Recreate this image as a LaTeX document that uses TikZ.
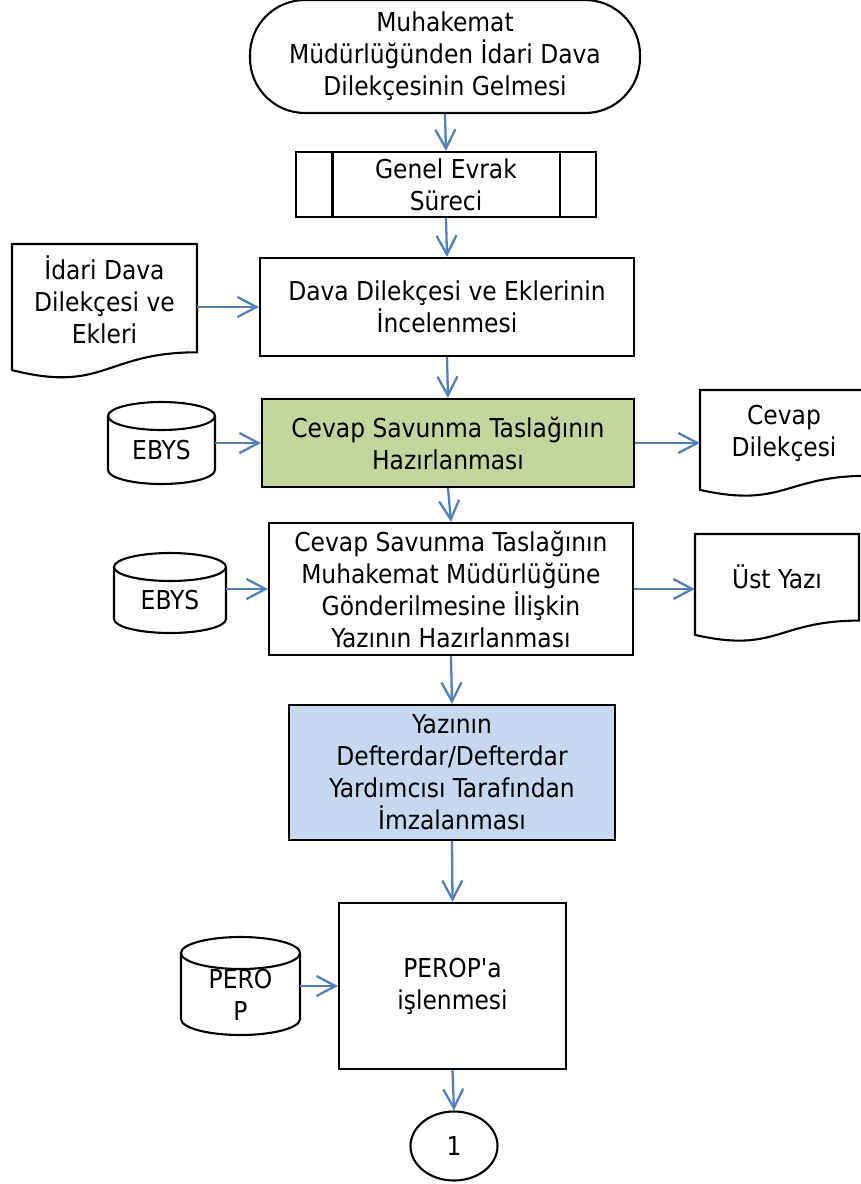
\documentclass[tikz,border=0pt]{standalone}
\usepackage{fontspec}
\setmainfont{DejaVu Sans Condensed}[Ligatures=TeXOff]
\usetikzlibrary{arrows.meta,calc,shapes.geometric}
\definecolor{arrblue}{RGB}{79,129,189}
\definecolor{gfill}{RGB}{195,214,155}
\definecolor{bfill}{RGB}{198,217,241}
\newcommand\cylshape[5]{%
  \draw[shp] (#1-#2,#3+#5) -- (#1-#2,#4-#5) arc[start angle=180,end angle=0,x radius=#2,y radius=#5] -- (#1+#2,#3+#5);
  \draw[shp] (#1,#3+#5) ellipse[x radius=#2,y radius=#5];}
\begin{document}
\begin{tikzpicture}[x=1pt,y=-1pt,
  font=\fontsize{26}{32}\selectfont,
  shp/.style={draw=black,line width=2.1pt},
  box/.style={shp,align=center,inner sep=0pt},
  lbl/.style={align=center,inner sep=0pt},
  arr/.style={draw=arrblue,line width=2.3pt,-{Straight Barb[length=19pt,width=20pt,line width=2.3pt]}}]
\useasboundingbox (0,0) rectangle (861,1184);

% main column
\node[box,rounded corners=55pt,minimum width=390pt,minimum height=113pt] (start) at (445,56.5)
  {Muhakemat\\Müdürlüğünden İdari Dava\\Dilekçesinin Gelmesi};
\node[box,minimum width=300pt,minimum height=65pt] (genel) at (446,184.5) {Genel Evrak\\Süreci};
\draw[shp] ($(genel.north west)+(37.5,0)$) -- ($(genel.south west)+(37.5,0)$);
\draw[shp] ($(genel.north east)+(-37.5,0)$) -- ($(genel.south east)+(-37.5,0)$);
\node[box,minimum width=374pt,minimum height=98pt] (dava) at (447,307) {Dava Dilekçesi ve Eklerinin\\İncelenmesi};
\node[box,fill=gfill,minimum width=372pt,minimum height=88pt] (taslak) at (448,443) {Cevap Savunma Taslağının\\Hazırlanması};
\node[box,minimum width=364pt,minimum height=132pt] (yazi) at (451,589)
  {Cevap Savunma Taslağının\\Muhakemat Müdürlüğüne\\Gönderilmesine İlişkin\\Yazının Hazırlanması};
\node[box,fill=bfill,minimum width=326pt,minimum height=135pt] (imza) at (452,772.5)
  {Yazının\\Defterdar/Defterdar\\Yardımcısı Tarafından\\İmzalanması};
\node[box,minimum width=227pt,minimum height=166pt] (perop) at (452.5,986) {PEROP'a\\işlenmesi};
\node[box,ellipse,minimum width=87pt,minimum height=69pt] (bir) at (454,1146) {1};

% documents
\draw[shp] (12,244) -- (197,244) -- (197,352.3) .. controls (104.5,352.3) and (104.5,393.5) .. (12,370.1) -- cycle;
\node[lbl,minimum width=185pt] (idari) at (104.5,300) {İdari Dava\\Dilekçesi ve\\Ekleri};
\draw[shp] (700,390) -- (868,390) -- (868,475.8) .. controls (784,475.8) and (784,508.5) .. (700,489.9) -- cycle;
\node[lbl,minimum width=168pt] (cevapdoc) at (784,433) {Cevap\\Dilekçesi};
\draw[shp] (695,534) -- (859,534) -- (859,620.6) .. controls (777,620.6) and (777,653.6) .. (695,634.9) -- cycle;
\node[lbl,minimum width=164pt] (ust) at (777,577) {Üst Yazı};

% databases
\cylshape{161.5}{53.5}{402}{484}{14}
\node[lbl,minimum width=107pt] (ebys1) at (161.5,450) {EBYS};
\cylshape{170}{56}{553}{633}{14}
\node[lbl,minimum width=112pt] (ebys2) at (170,600) {EBYS};
\cylshape{240.5}{59.5}{937}{1035}{16}
\node[lbl,minimum width=119pt] (perodb) at (240.5,995) {PERO\\P};

% connectors
\draw[arr] (start.south) -- (genel.north);
\draw[arr] (genel.south) -- (dava.north);
\draw[arr] (dava.south) -- (taslak.north);
\draw[arr] (taslak.south) -- (yazi.north);
\draw[arr] (yazi.south) -- (imza.north);
\draw[arr] (imza.south) -- (perop.north);
\draw[arr] (perop.south) -- (bir.north);
\draw[arr] (dava.west -| idari.east) -- (dava.west);
\draw[arr] (taslak.west -| ebys1.east) -- (taslak.west);
\draw[arr] (taslak.east) -- (taslak.east -| cevapdoc.west);
\draw[arr] (yazi.west -| ebys2.east) -- (yazi.west);
\draw[arr] (yazi.east) -- (yazi.east -| ust.west);
\draw[arr] (perop.west -| perodb.east) -- (perop.west);
\end{tikzpicture}
\end{document}
